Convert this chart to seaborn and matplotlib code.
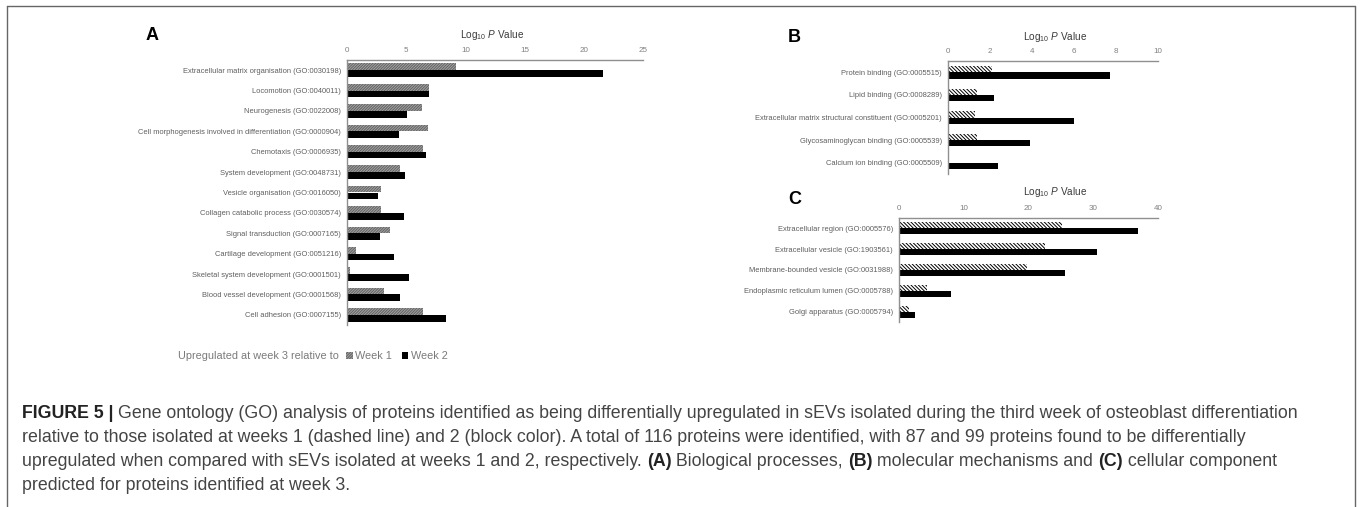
import matplotlib
matplotlib.use("Agg")
import matplotlib.pyplot as plt
import seaborn as sns
import pandas as pd
from matplotlib.patches import Patch
from matplotlib.lines import Line2D

# ---------------- data ----------------
series_names = ["Week 1", "Week 2"]

bp_terms = [
    "Extracellular matrix organisation (GO:0030198)",
    "Locomotion (GO:0040011)",
    "Neurogenesis (GO:0022008)",
    "Cell morphogenesis involved in differentiation (GO:0000904)",
    "Chemotaxis (GO:0006935)",
    "System development (GO:0048731)",
    "Vesicle organisation (GO:0016050)",
    "Collagen catabolic process (GO:0030574)",
    "Signal transduction (GO:0007165)",
    "Cartilage development (GO:0051216)",
    "Skeletal system development (GO:0001501)",
    "Blood vessel development (GO:0001568)",
    "Cell adhesion (GO:0007155)",
]
bp_week1 = [9.2, 6.9, 6.3, 6.8, 6.4, 4.5, 2.9, 2.9, 3.6, 0.8, 0.25, 3.1, 6.4]
bp_week2 = [21.6, 6.9, 5.1, 4.4, 6.7, 4.9, 2.6, 4.8, 2.8, 4.0, 5.2, 4.5, 8.4]
bp_ticks = [0, 5, 10, 15, 20, 25]

mf_terms = [
    "Protein binding (GO:0005515)",
    "Lipid binding (GO:0008289)",
    "Extracellular matrix structural constituent (GO:0005201)",
    "Glycosaminoglycan binding (GO:0005539)",
    "Calcium ion binding (GO:0005509)",
]
mf_week1 = [2.1, 1.4, 1.3, 1.4, 0.0]
mf_week2 = [7.7, 2.2, 6.0, 3.9, 2.4]
mf_ticks = [0, 2, 4, 6, 8, 10]

cc_terms = [
    "Extracellular region (GO:0005576)",
    "Extracellular vesicle (GO:1903561)",
    "Membrane-bounded vesicle (GO:0031988)",
    "Endoplasmic reticulum lumen (GO:0005788)",
    "Golgi apparatus (GO:0005794)",
]
cc_week1 = [25.1, 22.6, 19.7, 4.3, 1.5]
cc_week2 = [36.9, 30.6, 25.7, 8.1, 2.5]
cc_ticks = [0, 10, 20, 30, 40]

axis_title = r"Log$_{\mathregular{10}}$ $\mathit{P}$ Value"
legend_prefix = "Upregulated at week 3 relative to"

caption_lines = [
    [("FIGURE 5 | ", "bold"),
     ("Gene ontology (GO) analysis of proteins identified as being differentially upregulated in sEVs isolated during the third week of osteoblast differentiation", "normal")],
    [("relative to those isolated at weeks 1 (dashed line) and 2 (block color). A total of 116 proteins were identified, with 87 and 99 proteins found to be differentially", "normal")],
    [("upregulated when compared with sEVs isolated at weeks 1 and 2, respectively. ", "normal"),
     ("(A)", "bold"), (" Biological processes, ", "normal"),
     ("(B)", "bold"), (" molecular mechanisms and ", "normal"),
     ("(C)", "bold"), (" cellular component", "normal")],
    [("predicted for proteins identified at week 3.", "normal")],
]

# ---------------- style ----------------
sns.set_style("white")
plt.rcParams["font.family"] = ["Liberation Sans", "DejaVu Sans"]
plt.rcParams["mathtext.fontset"] = "custom"
plt.rcParams["mathtext.rm"] = "Liberation Sans"
plt.rcParams["mathtext.it"] = "Liberation Sans:italic"
plt.rcParams["mathtext.bf"] = "Liberation Sans:bold"
plt.rcParams["hatch.linewidth"] = 0.7

W, H = 1360, 507
fig = plt.figure(figsize=(W / 100, H / 100), dpi=100)
fig.patch.set_facecolor("white")

SPINE = "#8f8f8f"
TICKC = "#808080"
LABC = "#5e5e5e"
GRAY_FACE = "#a2a2a2"
GRAY_HATCH = "#626262"
GRAY_PAT = "/" * 12
LINE_PAT = "\\" * 9


def rect(left, top, right, bottom):
    return [left / W, (H - bottom) / H, (right - left) / W, (bottom - top) / H]


def style_week1(p, kind):
    if kind == "gray":
        p.set_facecolor(GRAY_FACE)
        p.set_edgecolor(GRAY_HATCH)
        p.set_hatch(GRAY_PAT)
    else:
        p.set_facecolor("white")
        p.set_edgecolor("black")
        p.set_hatch(LINE_PAT)
    p.set_linewidth(0)


def panel(r, terms, w1, w2, ticks, kind, width, letter, letter_xy, title_xy):
    n = len(terms)
    df = pd.DataFrame({
        "term": terms * 2,
        "value": w1 + w2,
        "week": [series_names[0]] * n + [series_names[1]] * n,
    })
    ax = fig.add_axes(r)
    sns.barplot(data=df, y="term", x="value", hue="week", orient="h",
                palette=[GRAY_FACE, "black"], saturation=1, width=width,
                ax=ax, legend=False, errorbar=None)
    for p in ax.containers[0]:
        style_week1(p, kind)
    for p in ax.containers[1]:
        p.set_linewidth(0)
    ax.set_xlim(ticks[0], ticks[-1])
    ax.set_xticks(ticks)
    ax.set_xticklabels([str(t) for t in ticks])
    ax.set_ylim(n - 0.5, -0.5)
    ax.xaxis.tick_top()
    ax.set_xlabel("")
    ax.set_ylabel("")
    for s in ["right", "bottom"]:
        ax.spines[s].set_visible(False)
    for s in ["top", "left"]:
        ax.spines[s].set_color(SPINE)
        ax.spines[s].set_linewidth(1.0)
    ax.tick_params(axis="x", length=0, pad=4, labelsize=5.8, colors=TICKC)
    ax.tick_params(axis="y", length=0, pad=4.3, labelsize=5.4, colors=LABC)
    ax.grid(False)
    fig.text(letter_xy[0] / W, 1 - letter_xy[1] / H, letter, fontsize=13,
             fontweight="bold", ha="center", va="center", color="black")
    fig.text(title_xy[0] / W, 1 - title_xy[1] / H, axis_title, fontsize=7.2,
             ha="center", va="center", color="#3a3a3a")
    return ax


axA = panel(rect(347, 60, 643, 325), bp_terms, bp_week1, bp_week2, bp_ticks,
            "gray", 0.66, "A", (152, 35), (492, 35))
axB = panel(rect(948, 61, 1158, 174), mf_terms, mf_week1, mf_week2, mf_ticks,
            "hatch", 0.55, "B", (794, 37), (1055, 37))
axC = panel(rect(899, 218, 1158, 322), cc_terms, cc_week1, cc_week2, cc_ticks,
            "hatch", 0.58, "C", (795, 200), (1055, 192))

# ---------------- legend (panel A) ----------------
LEGC = "#7a7a7a"
fig.text(178 / W, 1 - 356 / H, legend_prefix, fontsize=7.8, color=LEGC,
         ha="left", va="center")
h1 = Patch(facecolor=GRAY_FACE, edgecolor=GRAY_HATCH, hatch=GRAY_PAT, linewidth=0)
h2 = Patch(facecolor="black", edgecolor="black", linewidth=0)
fig.legend([h1, h2], series_names, loc="center left",
           bbox_to_anchor=(346 / W, 1 - 356 / H), ncol=2, frameon=False,
           fontsize=7.8, labelcolor=LEGC, handlelength=0.6, handleheight=0.6,
           handletextpad=0.25, columnspacing=0.9, borderpad=0, borderaxespad=0)

# ---------------- caption ----------------
renderer = fig.canvas.get_renderer()
CAPC = "#444444"
target_w = 1308 - 22
probe = fig.text(0, 0, "".join(s for s, _ in caption_lines[0][1:]), fontsize=10)
bold_probe = fig.text(0, 0, caption_lines[0][0][0], fontsize=10, fontweight="bold")
w0 = probe.get_window_extent(renderer).width + bold_probe.get_window_extent(renderer).width
probe.remove()
bold_probe.remove()
cap_fs = 10 * target_w / w0

line_y = [413, 437, 461, 485]
for segs, yy in zip(caption_lines, line_y):
    x = 22
    for s, wt in segs:
        t = fig.text(x / W, 1 - yy / H, s, fontsize=cap_fs, fontweight=wt,
                     color=CAPC if wt == "normal" else "#222222",
                     ha="left", va="center")
        x += t.get_window_extent(renderer).width

# ---------------- frame ----------------
FR = "#666666"
fig.add_artist(Line2D([7 / W, 7 / W], [0, 1 - 6 / H], color=FR, lw=1.0,
                      transform=fig.transFigure))
fig.add_artist(Line2D([7 / W, 1355 / W], [1 - 6 / H, 1 - 6 / H], color=FR, lw=1.0,
                      transform=fig.transFigure))
fig.add_artist(Line2D([1355 / W, 1355 / W], [0, 1 - 6 / H], color=FR, lw=1.0,
                      transform=fig.transFigure))

fig.savefig("out.png", dpi=100, facecolor="white")
